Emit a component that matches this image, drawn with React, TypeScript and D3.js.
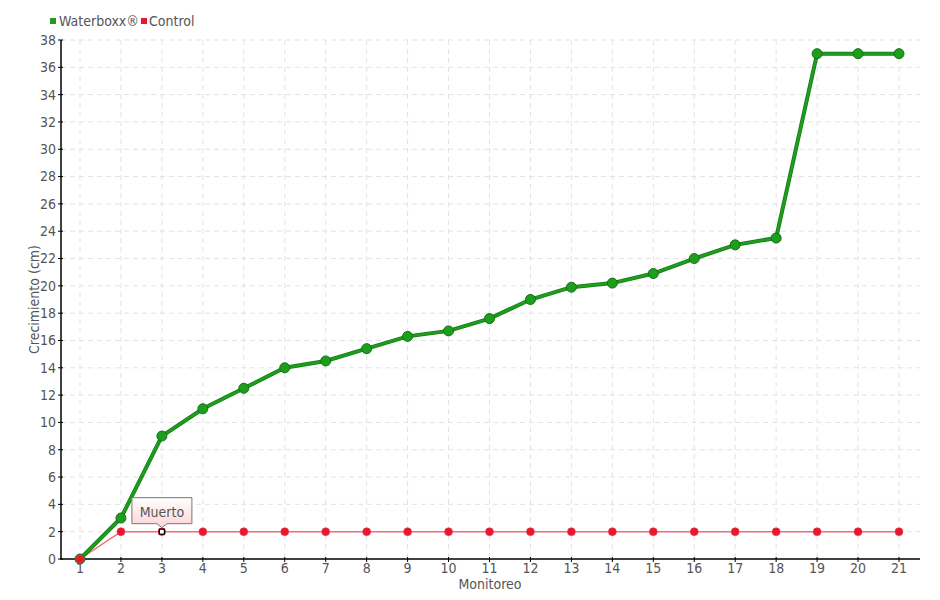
import React from "react";
import * as d3 from "d3";

const monitoreo = [1, 2, 3, 4, 5, 6, 7, 8, 9, 10, 11, 12, 13, 14, 15, 16, 17, 18, 19, 20, 21];
const waterboxx = [0, 3.0, 9.0, 11.0, 12.5, 14.0, 14.5, 15.4, 16.3, 16.7, 17.6, 19.0, 19.9, 20.2, 20.9, 22.0, 23.0, 23.5, 37, 37, 37];
const control = [0, 2, 2, 2, 2, 2, 2, 2, 2, 2, 2, 2, 2, 2, 2, 2, 2, 2, 2, 2, 2];
const yTicks = d3.range(0, 39, 2);
const seriesNames = ["Waterboxx®", "Control"];
const annotation = { index: 2, text: "Muerto" };

const W = 940, H = 600;
const left = 61, right = 920, top = 40, bottom = 559;
const FONT = "'Liberation Sans Narrow', 'DejaVu Sans Condensed', 'Roboto', sans-serif";

export default function App() {
  const xs = d3.scaleLinear().domain([1, 21]).range([80, 899]);
  const y = d3.scaleLinear().domain([0, 38]).range([bottom, top]);
  const line = d3.line<number>().x((_, i) => xs(monitoreo[i])).y((d) => y(d));
  const green = "#1d9e1d";
  const red = "#e8172c";
  const ax = xs(monitoreo[annotation.index]);
  const ay = y(control[annotation.index]);
  return (
    <svg width={W} height={H} style={{ position: "absolute", left: 0, top: 0, fontFamily: FONT }}>
      <defs>
        <linearGradient id="tip" x1="0" y1="0" x2="0" y2="1">
          <stop offset="0" stopColor="#ffffff" />
          <stop offset="1" stopColor="#fbd3d6" />
        </linearGradient>
      </defs>
      {/* grid */}
      {yTicks.filter((t) => t > 0).map((t) => (
        <line key={"gy" + t} x1={left} x2={right} y1={y(t)} y2={y(t)} stroke="#e3e3e3" strokeDasharray="5,4" />
      ))}
      {monitoreo.map((m) => (
        <line key={"gx" + m} x1={xs(m)} x2={xs(m)} y1={top} y2={bottom} stroke="#e3e3e3" strokeDasharray="5,4" />
      ))}
      {/* axes */}
      <line x1={left} x2={left} y1={top} y2={bottom} stroke="#000" strokeWidth={1.5} />
      <line x1={left - 1} x2={right} y1={bottom} y2={bottom} stroke="#000" strokeWidth={1.5} />
      {yTicks.map((t) => (
        <g key={"yt" + t}>
          <line x1={left - 3} x2={left + 2} y1={y(t)} y2={y(t)} stroke="#000" />
          <text x={left - 5} y={y(t)} dy="0.35em" textAnchor="end" fontSize={14} fill="#555">{t}</text>
        </g>
      ))}
      {monitoreo.map((m) => (
        <g key={"xt" + m}>
          <line x1={xs(m)} x2={xs(m)} y1={bottom - 2} y2={bottom + 3} stroke="#000" />
          <text x={xs(m)} y={bottom + 14} textAnchor="middle" fontSize={14} fill="#555">{m}</text>
        </g>
      ))}
      <text transform={`translate(39,${(top + bottom) / 2}) rotate(-90)`} textAnchor="middle" fontSize={14} fill="#555">Crecimiento (cm)</text>
      <text x={490} y={589} textAnchor="middle" fontSize={14} fill="#555">Monitoreo</text>
      {/* control series */}
      <path d={line(control) || ""} fill="none" stroke="#f06a7a" strokeWidth={1.5} />
      {control.map((v, i) => i === annotation.index ? null : (
        <circle key={"c" + i} cx={xs(monitoreo[i])} cy={y(v)} r={4} fill={red} stroke="#e8405a" strokeWidth={0.5} />
      ))}
      {/* waterboxx */}
      <path d={line(waterboxx) || ""} fill="none" stroke="#157a15" strokeWidth={4} />
      <path d={line(waterboxx) || ""} fill="none" stroke={green} strokeWidth={2.5} />
      {waterboxx.map((v, i) => (
        <circle key={"w" + i} cx={xs(monitoreo[i])} cy={y(v)} r={5} fill={green} stroke="#167016" strokeWidth={1} />
      ))}
      <circle cx={xs(monitoreo[0])} cy={y(control[0])} r={4} fill={red} stroke="#e8405a" strokeWidth={0.5} />
      {/* annotation */}
      <circle cx={ax} cy={ay} r={4} fill={red} />
      <rect x={ax - 2.5} y={ay - 2.5} width={5} height={5} fill="#fff" stroke="#000" strokeWidth={1.2} />
      <path
        d={`M${ax - 30},${ay - 34} H${ax + 30} V${ay - 8} H${ax + 5} L${ax},${ay - 4} L${ax - 5},${ay - 8} H${ax - 30} Z`}
        fill="url(#tip)" stroke="#777" strokeWidth={1}
      />
      <text x={ax} y={ay - 15} textAnchor="middle" fontSize={14} fill="#555">{annotation.text}</text>
      {/* legend */}
      <rect x={50} y={18} width={6} height={6} fill={green} />
      <text x={59} y={26} fontSize={14} fill="#555">{seriesNames[0]}</text>
      <rect x={141} y={18} width={6} height={6} fill={red} />
      <text x={149} y={26} fontSize={14} fill="#555">{seriesNames[1]}</text>
    </svg>
  );
}
